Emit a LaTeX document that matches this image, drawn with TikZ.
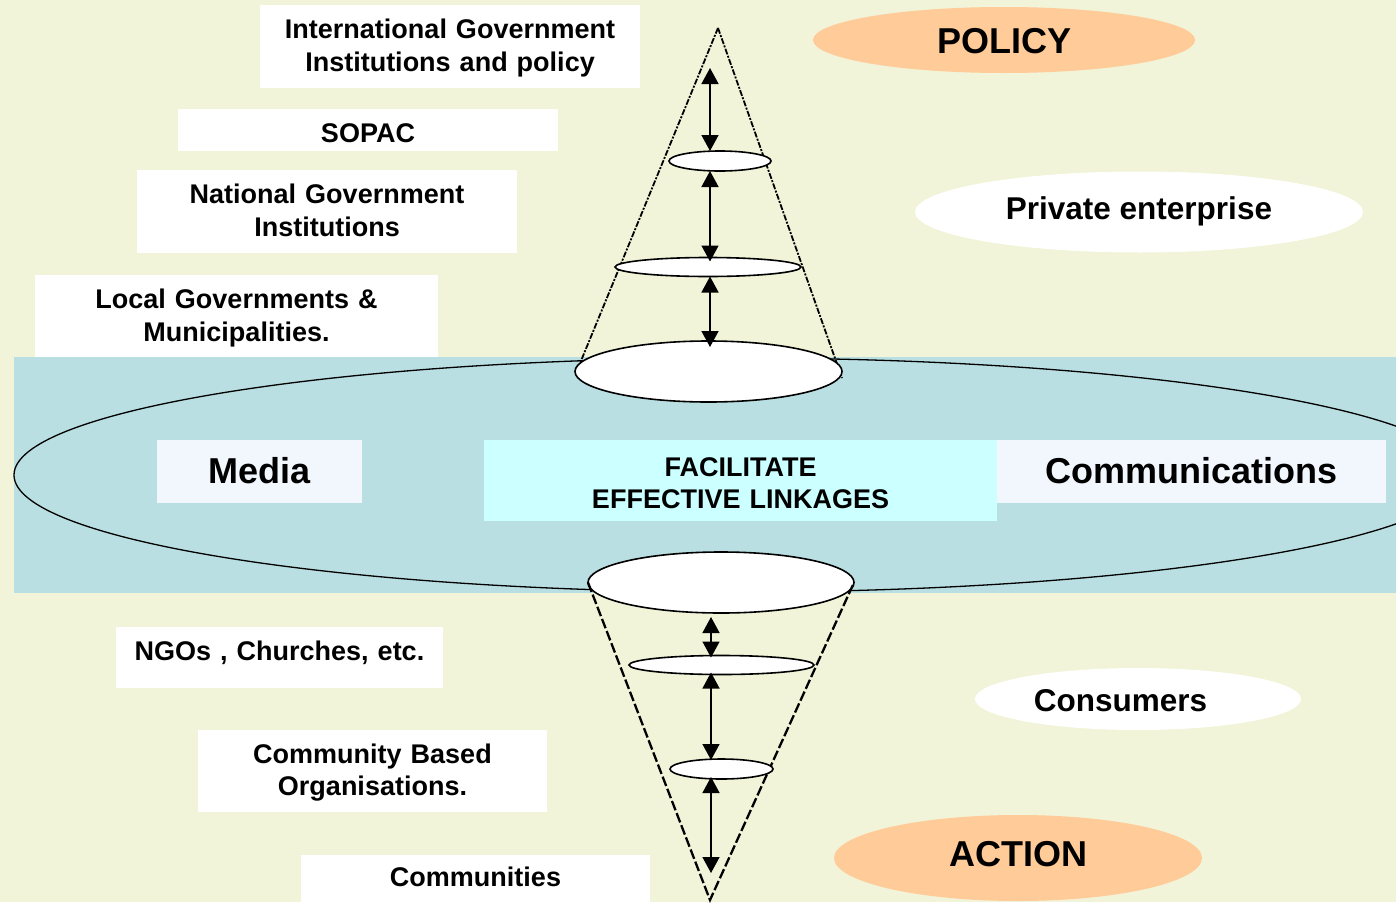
\documentclass[tikz,border=0pt]{standalone}
\usepackage{fontspec}
\setmainfont{Liberation Sans}
\usetikzlibrary{shapes.geometric,arrows.meta}
\definecolor{bgc}{HTML}{F1F4D8}
\definecolor{bandc}{HTML}{B9DFE2}
\definecolor{cyanbox}{HTML}{CCFFFF}
\definecolor{palebox}{HTML}{F2F6FD}
\definecolor{peach}{HTML}{FFCC99}
\begin{document}
\begin{tikzpicture}[x=1pt,y=-1pt,
  lbl/.style={inner sep=0pt, outer sep=0pt, align=center, anchor=base,
    font=\fontsize{27}{33}\selectfont\bfseries},
  whitebox/.style={lbl, fill=white},
  bigtxt/.style={font=\fontsize{36}{40}\selectfont\bfseries},
  oval/.style={ellipse, inner sep=0pt, outer sep=0pt, draw=none},
  ovaltxt/.style={font=\fontsize{31.5}{36}\selectfont\bfseries},
  ring/.style={ellipse, inner sep=0pt, outer sep=0pt, draw=black, line width=1.6pt, fill=white},
  topcone/.style={line width=1.8pt, dash pattern=on 6pt off 1.5pt on 2pt off 1.5pt},
  botcone/.style={line width=2.3pt, dash pattern=on 10pt off 3pt},
  link/.style={line width=1.5pt, {Triangle[width=17pt,length=16pt]}-{Triangle[width=17pt,length=16pt]}}
]
\useasboundingbox (0,0) rectangle (1396,902);
\fill[bgc] (0,0) rectangle (1396,902);
\clip (0,0) rectangle (1396,902);

% horizontal band and large ellipse
\fill[bandc] (14,357) rectangle (1396,593);
\node[ellipse, draw=black, line width=1.3pt, inner sep=0pt, minimum width=1448pt, minimum height=234pt] (bigell) at (738,475) {};

% left labels
\node[whitebox, text width=380pt, text height=33pt, text depth=50pt] (intgov) at (450,38)
  {International Government\\Institutions and policy};
\node[whitebox, text width=380pt, text height=33pt, text depth=9pt] (sopac) at (368,142) {SOPAC};
\node[whitebox, text width=380pt, text height=33pt, text depth=50pt] (natgov) at (327,203)
  {National Government\\Institutions};
\node[whitebox, text width=403pt, text height=33pt, text depth=49pt] (localgov) at (236.5,308)
  {Local Governments \&\\Municipalities.};
\node[lbl, fill=palebox, bigtxt, text width=205pt, text height=43pt, text depth=20pt] (media) at (259.5,483) {Media};
\node[lbl, fill=cyanbox, font=\fontsize{27}{32}\selectfont\bfseries, text width=513pt, text height=36pt, text depth=45pt] (facil) at (740.5,476)
  {FACILITATE\\EFFECTIVE LINKAGES};
\node[lbl, fill=palebox, bigtxt, text width=389pt, text height=43pt, text depth=20pt] (comm) at (1191.5,483) {Communications};
\node[whitebox, text width=327pt, text height=33pt, text depth=28pt] (ngos) at (279.5,660) {NGOs , Churches, etc.};
\node[whitebox, font=\fontsize{27}{32}\selectfont\bfseries, text width=349pt, text height=33pt, text depth=49pt] (cbo) at (372.5,763)
  {Community Based\\Organisations.};
\node[whitebox, text width=349pt, text height=31pt, text depth=20pt] (commun) at (475.5,886) {Communities};

% right ovals
\node[oval, fill=peach, minimum width=382pt, minimum height=66pt, bigtxt, text height=26pt, text depth=0pt] (policy) at (1004,40) {POLICY};
\node[oval, fill=white, minimum width=448pt, minimum height=81pt, ovaltxt, text height=22pt, text depth=8pt] (private) at (1139,212) {Private enterprise};
\node[oval, fill=white, minimum width=326pt, minimum height=62pt, ovaltxt, text height=25pt, text depth=0pt] (consumers) at (1138,699) {Consumers\hspace*{35pt}};
\node[oval, fill=peach, minimum width=368pt, minimum height=86pt, bigtxt, text height=26pt, text depth=10pt] (action) at (1018,858) {ACTION};

% top cone
\coordinate (tapex) at (718,28);
\coordinate (tax) at (710,0);
\coordinate (tstart) at (710,68);
\draw[topcone] (tapex) -- (576,373);
\draw[topcone] (tapex) -- (842,378);
\node[ring, minimum width=102pt, minimum height=20pt] (t1) at (720,161) {};
\node[ring, minimum width=186pt, minimum height=19pt] (t2) at (708,267) {};
\node[ring, minimum width=267pt, minimum height=61pt] (tb) at (708.5,371.5) {};
\draw[link] (tstart) -- (t1.north -| tax);
\draw[link] (t1.south -| tax) -- ([yshift=-4pt]t2.north -| tax);
\draw[link] (t2.south -| tax) -- ([yshift=-6pt]tb.north -| tax);

% bottom cone
\coordinate (bapex) at (710,900);
\coordinate (bax) at (711,0);
\coordinate (bend) at (711,873);
\node[ring, minimum width=266pt, minimum height=61pt] (bb) at (721,582.5) {};
\draw[botcone] (bb.west) -- (bapex) -- (bb.east);
\node[ring, minimum width=185pt, minimum height=19pt] (b1) at (721.5,665) {};
\node[ring, minimum width=103pt, minimum height=20pt] (b2) at (721.5,769) {};
\draw[link] ([yshift=-4pt]bb.south -| bax) -- ([yshift=-2pt]b1.north -| bax);
\draw[link] ([yshift=2pt]b1.south -| bax) -- ([yshift=-1pt]b2.north -| bax);
\draw[link] ([yshift=2pt]b2.south -| bax) -- (bend);
\end{tikzpicture}
\end{document}
